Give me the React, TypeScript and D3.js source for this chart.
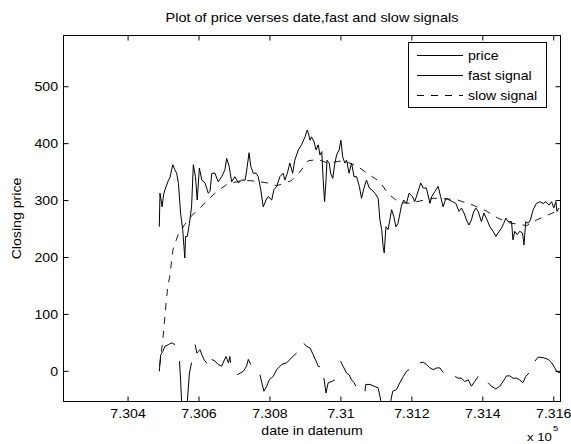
import React from 'react';
import * as d3 from 'd3';

// price trace (datenum, closing price)
const priceDates = [
  730488, 730490, 730496, 730500, 730504, 730514, 730518, 730526, 730532, 730537,
  730542, 730548, 730554, 730560, 730562, 730567, 730573, 730579, 730584, 730590,
  730595, 730601, 730608, 730617, 730626, 730631, 730636, 730645, 730654, 730664,
  730673, 730678, 730685, 730692, 730701, 730711, 730720, 730730, 730736, 730741,
  730746, 730753, 730761, 730767, 730774, 730781, 730789, 730795, 730805, 730811,
  730819, 730828, 730837, 730842, 730849, 730856, 730864, 730870, 730880, 730889,
  730899, 730905, 730908, 730913, 730917, 730924, 730930, 730936, 730941, 730946,
  730950, 730954, 730958, 730961, 730967, 730971, 730977, 730983, 730988, 730995,
  731000, 731005, 731011, 731016, 731023, 731030, 731037, 731044, 731052, 731058,
  731065, 731072, 731080, 731087, 731096, 731105, 731110, 731115, 731119, 731122,
  731127, 731133, 731143, 731149, 731155, 731161, 731171, 731177, 731185, 731192,
  731202, 731208, 731216, 731225, 731232, 731241, 731251, 731256, 731265, 731274,
  731281, 731288, 731296, 731305, 731315, 731324, 731333, 731340, 731347, 731354,
  731361, 731368, 731373, 731380, 731387, 731396, 731403, 731410, 731420, 731429,
  731437, 731443, 731453, 731459, 731465, 731471, 731481, 731485, 731490, 731497,
  731504, 731512, 731516, 731521, 731528, 731534, 731542, 731551, 731561, 731570,
  731578, 731587, 731594, 731600, 731606, 731609, 731615,
];
const priceValues = [
  254, 313, 289, 310, 319, 336, 340, 363, 354, 348,
  330, 278, 249, 199, 237, 237, 260, 289, 363, 342,
  301, 357, 336, 331, 313, 316, 348, 348, 333, 342,
  354, 374, 360, 333, 342, 331, 336, 336, 360, 384,
  360, 348, 348, 342, 319, 289, 301, 307, 301, 319,
  325, 342, 348, 336, 348, 366, 348, 371, 389, 398,
  412, 424, 419, 406, 412, 404, 389, 398, 380, 386,
  336, 298, 336, 371, 366, 348, 339, 366, 380, 389,
  406, 377, 366, 371, 348, 366, 342, 342, 325, 304,
  322, 336, 322, 319, 313, 304, 266, 249, 219, 208,
  254, 249, 284, 272, 254, 260, 292, 301, 295, 313,
  307, 298, 313, 331, 322, 322, 295, 307, 316, 325,
  307, 289, 304, 301, 298, 295, 281, 287, 278, 266,
  257, 266, 278, 287, 281, 263, 278, 269, 254, 246,
  237, 243, 252, 260, 269, 263, 263, 231, 246, 240,
  246, 243, 222, 263, 260, 266, 284, 295, 298, 295,
  298, 292, 298, 287, 298, 281, 287,
];

// fast signal, null marks a gap in the trace
const fastDates = [
  730488, 730492, 730498, 730504, 730514, 730523, 730532, 730538,
  730545, 730548, 730551, 730559, 730567, 730573, 730579, 730584,
  730589, 730594, 730598, 730603, 730608, 730614, 730622, 730629,
  730636, 730645, 730654, 730664, 730670, 730676, 730683, 730687, 730689, 730698,
  730708, 730716, 730725, 730734, 730739, 730746, 730759,
  730772, 730777, 730783, 730791, 730798, 730809, 730819, 730833, 730847, 730861, 730875, 730886,
  730896, 730903, 730913, 730922, 730930, 730936, 730941, 730946,
  730952, 730958, 730964, 730974, 730983, 730991,
  730999, 731006, 731016, 731023, 731030, 731037, 731042, 731055,
  731068, 731070, 731082, 731093, 731105, 731110, 731115, 731127, 731138, 731146,
  731157, 731166, 731176, 731185, 731192, 731208,
  731223, 731232, 731241, 731251, 731260, 731270, 731279, 731288, 731305,
  731322, 731330, 731340, 731349, 731359, 731368, 731377, 731387, 731400,
  731415, 731424, 731437, 731448, 731457, 731467, 731476, 731485, 731495, 731504,
  731513, 731521, 731530, 731538,
  731547, 731556, 731570, 731584, 731594, 731603, 731608, 731615, 731620,
];
const fastValues = [
  0, 29, 35, 44, 47, 50, 47, null,
  18, -15, -53, -120, -53, -3, 15, null,
  47, 32, 35, 38, 29, 21, 14, null,
  21, 18, 12, 9, 18, 26, 15, 26, 15, null,
  -6, -3, 0, 9, 21, 12, null,
  -6, -20, -35, -26, -15, -9, 3, 12, 15, 24, 32, null,
  49, 44, 41, 29, 18, 9, 8, null,
  -12, -38, -20, -18, -15, null,
  18, 9, -3, -6, -15, -20, -26, null,
  -35, -23, -23, -26, -29, -44, -60, -95, -60, -35,
  -32, -20, -9, 0, 3, null,
  15, 16, 12, 6, 3, 6, 6, -2, null,
  -9, -12, -12, -18, -15, -26, -18, -9, null,
  -20, -26, -31, -26, -18, -8, -8, -12, -12, -15,
  -20, -9, -3, null,
  18, 25, 24, 21, 15, 6, 0, -2, -3,
];

// slow signal
const slowDates = [
  730489, 730498, 730505, 730512, 730517, 730527, 730541, 730560, 730580, 730600,
  730620, 730650, 730678, 730724, 730760, 730792, 730819, 730860, 730884, 730908,
  730935, 730963, 731006, 731045, 731076, 731110, 731133, 731163, 731194, 731213,
  731260, 731324, 731372, 731409, 731440, 731473, 731524, 731552, 731592, 731619,
];
const slowValues = [
  10, 55, 105, 150, 165, 215, 240, 258, 274, 285,
  298, 316, 328, 336, 334, 331, 326, 335, 350, 370,
  372, 366, 370, 361, 347, 333, 312, 297, 295, 298,
  304, 302, 292, 282, 270, 261, 256, 266, 277, 284,
];

const xTicks = [730400, 730600, 730800, 731000, 731200, 731400, 731600];
const xTickLabels = ['7.304', '7.306', '7.308', '7.31', '7.312', '7.314', '7.316'];
const yTicks = [0, 100, 200, 300, 400, 500];
const legendLabels = ['price', 'fast signal', 'slow signal'];

const W = 571;
const H = 444;
const L = 63.5;
const R = 560.5;
const T = 35.5;
const B = 401.5;
const FONT = '"Liberation Sans", Arial, Helvetica, sans-serif';
const FS = 12.3;
const STRETCH = 1.15;
const DASH = '7,7';

// text drawn a little wider than the font, as in the reference
const Label = ({ x, y, anchor = 'start', size = FS, rotate = 0, children }: any) => (
  <text transform={`translate(${x},${y}) rotate(${rotate}) scale(${STRETCH},1)`}
    textAnchor={anchor} fontSize={size}>
    {children}
  </text>
);

export default function App() {
  const x = d3.scaleLinear().domain([730218, 731619]).range([L, R]);
  const y = d3.scaleLinear().domain([-53, 590]).range([B, T]);

  const price = priceDates.map((d, i) => [d, priceValues[i]] as [number, number]);
  const fast = fastDates.map((d, i) => [d, fastValues[i]] as [number, number | null]);
  const slow = slowDates.map((d, i) => [d, slowValues[i]] as [number, number]);

  const line = d3.line<[number, number | null]>()
    .defined(d => d[1] !== null)
    .x(d => x(d[0]))
    .y(d => y(d[1] as number));

  const tick = 5;

  return (
    <svg width={W} height={H} style={{ position: 'absolute', left: 0, top: 0, background: '#fff' }}
      fontFamily={FONT}>
      <rect width={W} height={H} fill="#fff" />
      <defs>
        <clipPath id="plot">
          <rect x={L} y={T} width={R - L} height={B - T} />
        </clipPath>
      </defs>

      <Label x={(L + R) / 2} y={22} anchor="middle" size={12.6}>
        Plot of price verses date,fast and slow signals
      </Label>

      <g clipPath="url(#plot)" fill="none" strokeLinejoin="round">
        <path d={line(slow) || ''} stroke="#000" strokeWidth={0.9} strokeDasharray={DASH} />
        <path d={line(price) || ''} stroke="#000" strokeWidth={1} />
        <path d={line(fast) || ''} stroke="#000" strokeWidth={1} />
      </g>

      {/* box and ticks */}
      <rect x={L} y={T} width={R - L} height={B - T} fill="none" stroke="#000" strokeWidth={1} />
      {xTicks.map((t, i) => (
        <g key={t}>
          <line x1={x(t)} x2={x(t)} y1={B} y2={B - tick} stroke="#000" />
          <line x1={x(t)} x2={x(t)} y1={T} y2={T + tick} stroke="#000" />
          <Label x={x(t)} y={418} anchor="middle">{xTickLabels[i]}</Label>
        </g>
      ))}
      {yTicks.map(t => (
        <g key={t}>
          <line x1={L} x2={L + tick} y1={y(t)} y2={y(t)} stroke="#000" />
          <line x1={R} x2={R - tick} y1={y(t)} y2={y(t)} stroke="#000" />
          <Label x={58} y={y(t) + 4.5} anchor="end">{t}</Label>
        </g>
      ))}

      <Label x={(L + R) / 2} y={435} anchor="middle">date in datenum</Label>
      <Label x={527} y={441} size={11.5}>x 10</Label>
      <Label x={553} y={431} size={8}>5</Label>
      <Label x={21} y={(T + B) / 2} anchor="middle" rotate={-90}>Closing price</Label>

      {/* legend */}
      <g>
        <rect x={408.5} y={42.5} width={138} height={65} fill="#fff" stroke="#000" />
        {legendLabels.map((lab, i) => (
          <g key={lab}>
            <line x1={417} x2={463} y1={55.5 + i * 20} y2={55.5 + i * 20} stroke="#000"
              strokeDasharray={i === 2 ? DASH : undefined} />
            <Label x={468} y={60 + i * 20}>{lab}</Label>
          </g>
        ))}
      </g>
    </svg>
  );
}
